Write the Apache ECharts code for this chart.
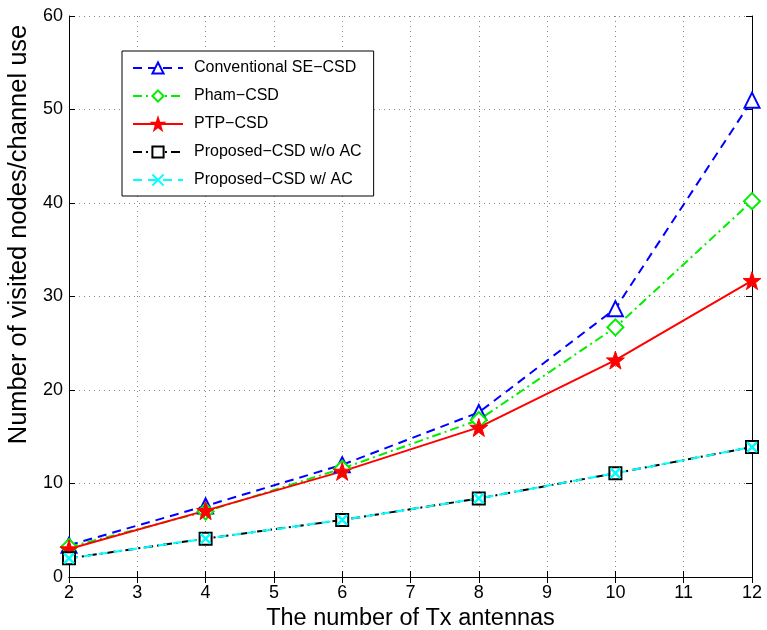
<!DOCTYPE html>
<html>
<head>
<meta charset="utf-8">
<script src="https://cdn.jsdelivr.net/npm/echarts@6/dist/echarts.min.js"></script>
<style>
  html, body { margin: 0; padding: 0; background: #fff; }
  #chart { width: 767px; height: 630px; }
</style>
</head>
<body>
<div id="chart"></div>
<script>
const antennas = [2, 4, 6, 8, 10, 12];
const conventional = [3.4, 7.6, 12.0, 17.6, 28.7, 51.0];
const pham = [3.2, 7.0, 11.6, 16.8, 26.7, 40.2];
const ptp = [3.0, 7.1, 11.3, 16.0, 23.2, 31.7];
const proposedNoAc = [2.0, 4.1, 6.1, 8.4, 11.1, 13.9];
const proposedAc = [2.0, 4.1, 6.1, 8.4, 11.1, 13.9];

const font = "Liberation Sans, Arial, Helvetica, sans-serif";
const starPath = "path://M50,0L61.8,35.3L99,35.3L69.1,57.4L80.4,92.7L50,71.3L19.6,92.7L30.9,57.4L1,35.3L38.2,35.3Z";
const crossPath = "path://M0,0L10,10M10,0L0,10";

const pairs = (ys) => antennas.map((x, i) => [x, ys[i]]);

const chart = echarts.init(document.getElementById("chart"));

const gridLine = { show: true, lineStyle: { color: "#888", type: [1, 4], width: 1 } };

const option = {
  animation: false,
  backgroundColor: "#fff",
  grid: { left: 69, right: 15, top: 16, bottom: 53, outerBoundsMode: "none" },
  legend: {
    orient: "vertical",
    left: 122,
    top: 51,
    backgroundColor: "#fff",
    borderColor: "#000",
    borderWidth: 1,
    padding: [9, 12, 8, 10],
    itemWidth: 50,
    itemHeight: 14,
    itemGap: 12,
    textStyle: {
      fontFamily: font,
      fontSize: 16,
      lineHeight: 16,
      color: "#000",
      padding: [0, 0, 0, 6],
    },
  },
  xAxis: [
    {
      type: "value",
      min: 2,
      max: 12,
      interval: 1,
      name: "The number of Tx antennas",
      nameLocation: "middle",
      nameGap: 28,
      nameTextStyle: { fontFamily: font, fontSize: 23.5, color: "#000" },
      axisLine: { lineStyle: { color: "#000", width: 1 } },
      axisTick: { inside: true, length: 6, lineStyle: { color: "#000" } },
      axisLabel: { fontFamily: font, fontSize: 18, color: "#000", margin: 7 },
      splitLine: gridLine,
    },
    {
      type: "value",
      position: "top",
      min: 2,
      max: 12,
      interval: 1,
      axisLine: { show: true, lineStyle: { color: "#000", width: 1 } },
      axisTick: { inside: true, length: 6, lineStyle: { color: "#000" } },
      axisLabel: { show: false },
      splitLine: { show: false },
    },
  ],
  yAxis: [
    {
      type: "value",
      min: 0,
      max: 60,
      interval: 10,
      name: "Number of visited nodes/channel use",
      nameLocation: "middle",
      nameGap: 36,
      nameTextStyle: {
        fontFamily: font,
        fontSize: 25.5,
        color: "#000",
        padding: [0, 0, 0, 124],
      },
      axisLine: { show: true, lineStyle: { color: "#000", width: 1 } },
      axisTick: { show: true, inside: true, length: 6, lineStyle: { color: "#000" } },
      axisLabel: { fontFamily: font, fontSize: 18, color: "#000", margin: 6 },
      splitLine: gridLine,
    },
    {
      type: "value",
      position: "right",
      min: 0,
      max: 60,
      interval: 10,
      axisLine: { show: true, lineStyle: { color: "#000", width: 1 } },
      axisTick: { show: true, inside: true, length: 6, lineStyle: { color: "#000" } },
      axisLabel: { show: false },
      splitLine: { show: false },
    },
  ],
  series: [
    {
      name: "Conventional SE\u2212CSD",
      type: "line",
      data: pairs(conventional),
      symbol: "emptyTriangle",
      symbolSize: 15,
      lineStyle: { color: "#0000ff", width: 2, type: [9, 6] },
      itemStyle: { color: "#0000ff", borderColor: "#0000ff", borderWidth: 2 },
    },
    {
      name: "Pham\u2212CSD",
      type: "line",
      data: pairs(pham),
      symbol: "emptyDiamond",
      symbolSize: 16,
      lineStyle: { color: "#00ee00", width: 2, type: [9, 4, 2, 4] },
      itemStyle: { color: "#00ee00", borderColor: "#00ee00", borderWidth: 2 },
    },
    {
      name: "PTP\u2212CSD",
      type: "line",
      data: pairs(ptp),
      symbol: starPath,
      symbolSize: 18,
      lineStyle: { color: "#ff0000", width: 2, type: "solid" },
      itemStyle: { color: "#ff0000", borderColor: "#ff0000", borderWidth: 1 },
    },
    {
      name: "Proposed\u2212CSD w/o AC",
      type: "line",
      data: pairs(proposedNoAc),
      symbol: "emptyRect",
      symbolSize: 12,
      lineStyle: { color: "#000", width: 2, type: [9, 4, 2, 4] },
      itemStyle: { color: "#000", borderColor: "#000", borderWidth: 2 },
    },
    {
      name: "Proposed\u2212CSD w/ AC",
      type: "line",
      data: pairs(proposedAc),
      symbol: crossPath,
      symbolSize: 10,
      lineStyle: { color: "#00ffff", width: 2, type: [9, 6] },
      itemStyle: { color: "#00ffff", borderColor: "#00ffff", borderWidth: 2.5 },
    },
  ],
};

chart.setOption(option);
</script>
</body>
</html>
